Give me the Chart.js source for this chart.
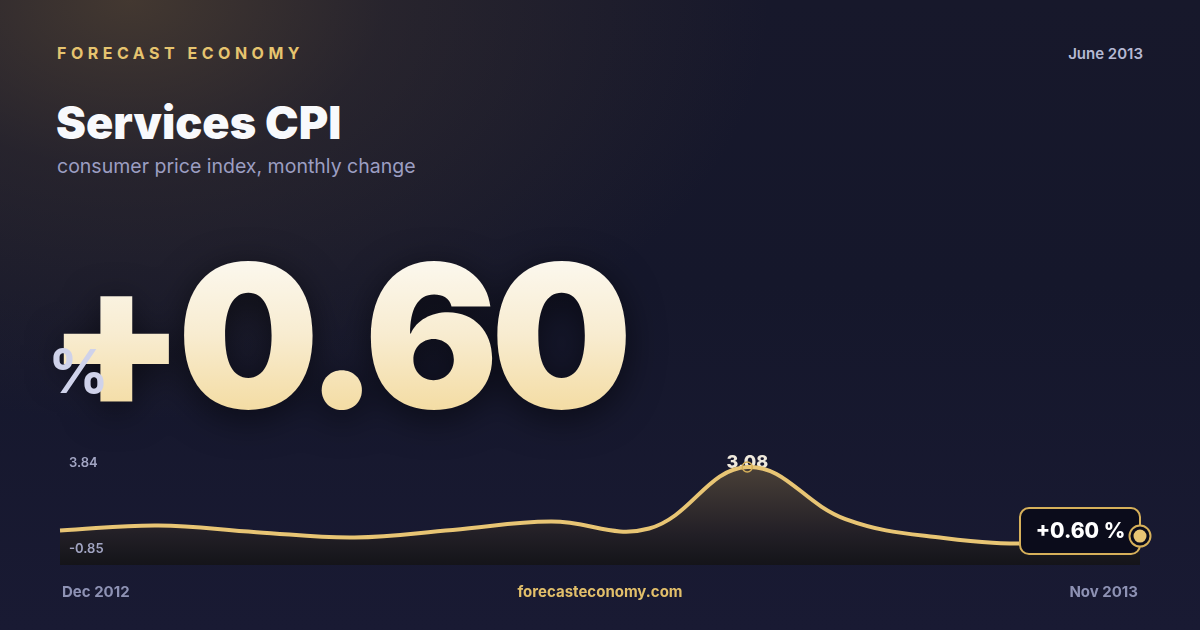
<!DOCTYPE html>
<html>
<head>
<meta charset="utf-8">
<script src="https://cdn.jsdelivr.net/npm/chart.js@4.4.1/dist/chart.umd.min.js"></script>
<style>
  html,body{margin:0;padding:0;}
  body{width:1200px;height:630px;overflow:hidden;position:relative;font-family:Inter,"Noto Sans",sans-serif;
    background:
      radial-gradient(ellipse 640px 420px at 130px 0px, rgba(78,64,50,0.8) 0%, rgba(78,64,50,0.3) 40%, rgba(78,64,50,0) 100%),
      linear-gradient(180deg,#17182b 0%,#15172b 45%,#191a33 100%);}
  .abs{position:absolute;white-space:nowrap;}
  #brand{left:57px;top:43px;font-size:16px;font-weight:700;letter-spacing:4.5px;color:#e6c46f;line-height:20px;}
  #date{right:57px;top:45px;font-size:15px;font-weight:600;color:#b5b8d3;line-height:18px;}
  #title{left:56px;top:96px;font-size:45px;font-weight:900;color:#f8f9fc;line-height:54px;letter-spacing:0px;}
  #subtitle{left:57px;top:154px;font-size:19.5px;font-weight:400;color:#9c9ec2;line-height:24px;}
  #big{left:47px;top:235px;padding-right:40px;font-size:200px;font-weight:900;line-height:200px;letter-spacing:-8.5px;
    background:linear-gradient(180deg,#fdfcf8 0%,#f8ecd0 50%,#f2d795 100%);
    -webkit-background-clip:text;background-clip:text;color:transparent;-webkit-text-fill-color:transparent;
    filter:drop-shadow(0 8px 18px rgba(0,0,0,0.55));}
  #pct{left:48px;top:341px;font-size:60px;font-weight:700;line-height:60px;color:#cfd2ea;}
  .rng{font-size:13px;font-weight:600;color:#a2a5c3;line-height:16px;}
  .foot{top:583px;font-size:15px;font-weight:700;line-height:18px;}
  #chartBox{position:absolute;left:40px;top:440px;width:1120px;height:140px;}
</style>
</head>
<body>
<div class="abs" id="brand">FORECAST ECONOMY</div>
<div class="abs" id="date">June 2013</div>
<div class="abs" id="title">Services CPI</div>
<div class="abs" id="subtitle">consumer price index, monthly change</div>
<div class="abs" id="big">+0.60</div>
<div class="abs" id="pct">%</div>
<div id="chartBox"><canvas id="c"></canvas></div>
<div class="abs rng" id="rmax" style="left:69px;top:454px;"></div>
<div class="abs rng" id="rmin" style="left:69px;top:540px;"></div>
<div class="abs foot" id="fstart" style="left:62px;color:#8e92b4;"></div>
<div class="abs foot" style="left:0;width:1200px;text-align:center;color:#e2bf6a;">forecasteconomy.com</div>
<div class="abs foot" id="fend" style="right:62px;color:#8e92b4;"></div>
<script>
// ---- data ----
const months = ['Dec 2012','Jan 2013','Feb 2013','Mar 2013','Apr 2013','May 2013','Jun 2013','Jul 2013','Aug 2013','Sep 2013','Oct 2013','Nov 2013'];
const cpiChange = [0.80, 0.98, 0.74, 0.55, 0.82, 1.12, 0.87, 3.08, 1.21, 0.53, 0.33, 0.60];
const rangeLabels = ['3.84', '-0.85'];
const refValue = 0.42;
const peakLabel = '3.08';
const latestLabel = '+0.60 %';
const yMin = -0.44, yMax = 3.51;

document.getElementById('rmax').textContent = rangeLabels[0];
document.getElementById('rmin').textContent = rangeLabels[1];
document.getElementById('fstart').textContent = months[0];
document.getElementById('fend').textContent = months[months.length-1];

const GOLD = '#e8c574';
const peakIdx = cpiChange.indexOf(Math.max(...cpiChange));
const lastIdx = cpiChange.length - 1;

const overlay = {
  id:'overlay',
  beforeDatasetsDraw(chart){
    const ctx = chart.ctx, ys = chart.scales.y, meta = chart.getDatasetMeta(0);
    const ca = chart.chartArea;
    const yy = ys.getPixelForValue(refValue);
    ctx.save();
    ctx.strokeStyle = 'rgba(255,255,255,0.85)';
    ctx.lineWidth = 1.5;
    ctx.setLineDash([7,5]);
    ctx.beginPath();
    ctx.moveTo(ca.left, yy);
    ctx.lineTo(meta.data[9].x + 6, yy);
    ctx.stroke();
    ctx.restore();
    const p = meta.data[peakIdx];
    ctx.save();
    ctx.font = '800 18px Inter';
    ctx.fillStyle = '#efe9dc';
    ctx.textAlign = 'center';
    ctx.textBaseline = 'alphabetic';
    ctx.fillText(peakLabel, p.x, p.y + 1);
    ctx.restore();
  },
  afterDatasetsDraw(chart){
    const ctx = chart.ctx, meta = chart.getDatasetMeta(0);
    const p = meta.data[lastIdx];
    ctx.save();
    const w = 120, top = p.y - 28, h = 46, left = p.x - w;
    ctx.beginPath();
    ctx.roundRect(left, top, w, h, 9);
    ctx.fillStyle = '#0b0c1b';
    ctx.fill();
    ctx.lineWidth = 2;
    ctx.strokeStyle = '#d6b05a';
    ctx.stroke();
    ctx.font = '800 21px Inter';
    ctx.fillStyle = '#ffffff';
    ctx.textAlign = 'center';
    ctx.textBaseline = 'middle';
    ctx.fillText(latestLabel, left + w/2 + 0.5, top + h/2 + 0.5);
    ctx.beginPath();
    ctx.arc(p.x, p.y, 10.5, 0, Math.PI*2);
    ctx.fillStyle = '#0b0c1b';
    ctx.fill();
    ctx.lineWidth = 2;
    ctx.strokeStyle = '#d6b05a';
    ctx.stroke();
    ctx.beginPath();
    ctx.arc(p.x, p.y, 6.5, 0, Math.PI*2);
    ctx.fillStyle = GOLD;
    ctx.fill();
    ctx.restore();
  }
};

new Chart(document.getElementById('c'), {
  type:'line',
  data:{
    labels: months,
    datasets:[{
      data: cpiChange,
      borderColor: GOLD,
      borderWidth: 4,
      tension: 0.4,
      fill: 'start',
      backgroundColor(ctx){
        const ca = ctx.chart.chartArea;
        if(!ca) return 'rgba(0,0,0,0)';
        const g = ctx.chart.ctx.createLinearGradient(0, ca.top, 0, ca.bottom);
        g.addColorStop(0, '#51463b');
        g.addColorStop(0.35, '#3a3331');
        g.addColorStop(0.72, '#221f26');
        g.addColorStop(1, '#141419');
        return g;
      },
      pointRadius: cpiChange.map((v,i)=> i===peakIdx ? 5 : 0),
      pointHoverRadius: 0,
      pointBackgroundColor: 'rgba(0,0,0,0)',
      pointBorderColor: '#d6b05a',
      pointBorderWidth: 1.5
    }]
  },
  options:{
    responsive:true, maintainAspectRatio:false, animation:false,
    layout:{padding:{left:20,right:20,top:15,bottom:15}},
    plugins:{legend:{display:false}, tooltip:{enabled:false}},
    scales:{
      x:{display:false, offset:false},
      y:{display:false, min:yMin, max:yMax}
    }
  },
  plugins:[overlay]
});
</script>
</body>
</html>
